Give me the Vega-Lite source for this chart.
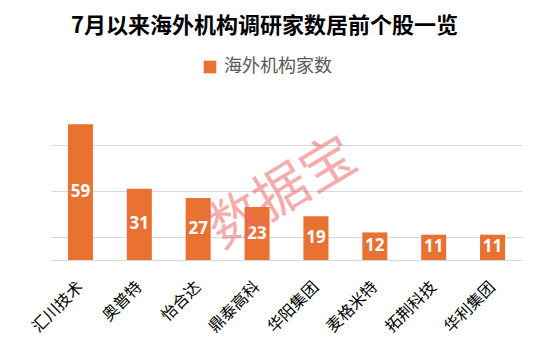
{
  "$schema": "https://vega.github.io/schema/vega-lite/v6.json",
  "width": 471,
  "height": 138,
  "autosize": {"type": "none"},
  "padding": {"left": 51, "top": 122, "right": 16, "bottom": 97},
  "background": "white",
  "config": {"view": {"stroke": null}},
  "title": {
    "text": "7月以来海外机构调研家数居前个股一览",
    "font": "Noto Sans CJK SC",
    "fontSize": 22,
    "fontWeight": "bold",
    "color": "#000000",
    "anchor": "middle",
    "frame": "group",
    "dx": -22,
    "offset": 20
  },
  "data": {
    "values": [
      {"stock": "汇川技术", "count": 59, "series": "海外机构家数"},
      {"stock": "奥普特", "count": 31, "series": "海外机构家数"},
      {"stock": "怡合达", "count": 27, "series": "海外机构家数"},
      {"stock": "鼎泰高科", "count": 23, "series": "海外机构家数"},
      {"stock": "华阳集团", "count": 19, "series": "海外机构家数"},
      {"stock": "麦格米特", "count": 12, "series": "海外机构家数"},
      {"stock": "拓荆科技", "count": 11, "series": "海外机构家数"},
      {"stock": "华利集团", "count": 11, "series": "海外机构家数"}
    ]
  },
  "layer": [
    {
      "mark": {"type": "bar", "color": "#E97132"},
      "encoding": {
        "x": {
          "field": "stock",
          "type": "nominal",
          "sort": null,
          "scale": {"paddingInner": 0.575, "paddingOuter": 0.2875},
          "axis": {
            "title": null,
            "labelAngle": -45,
            "labelAlign": "right",
            "labelBaseline": "middle",
            "labelPadding": 24,
            "labelFont": "Noto Sans CJK SC",
            "labelFontSize": 16,
            "labelColor": "#000000",
            "ticks": false,
            "domainColor": "#d9d9d9",
            "domainWidth": 1
          }
        },
        "y": {
          "field": "count",
          "type": "quantitative",
          "scale": {"domain": [0, 60]},
          "axis": {
            "title": null,
            "labels": false,
            "ticks": false,
            "domain": false,
            "values": [10, 20, 30, 40, 50, 60],
            "gridColor": "#d9d9d9",
            "gridWidth": 1
          }
        },
        "color": {
          "field": "series",
          "type": "nominal",
          "scale": {"range": ["#E97132"]},
          "legend": {
            "title": null,
            "orient": "none",
            "legendX": 150,
            "legendY": -64,
            "symbolType": "square",
            "symbolSize": 160,
            "symbolStrokeWidth": 0,
            "labelFont": "Noto Sans CJK SC",
            "labelFontSize": 18,
            "labelColor": "#595959",
            "labelOffset": 5
          }
        }
      }
    },
    {
      "mark": {
        "type": "text",
        "color": "white",
        "font": "Noto Sans",
        "fontSize": 17,
        "fontWeight": "bold",
        "baseline": "middle",
        "align": "center",
        "dy": {"expr": "(scale('y', 0) - scale('y', datum.count)) / 2"}
      },
      "encoding": {
        "x": {"field": "stock", "type": "nominal", "sort": null},
        "y": {"field": "count", "type": "quantitative"},
        "text": {"field": "count", "type": "quantitative"}
      }
    },
    {
      "data": {"values": [{"label": "数据宝", "stock": "鼎泰高科", "level": 22}]},
      "mark": {
        "type": "text",
        "color": "#ee6a6a",
        "opacity": 0.55,
        "font": "Noto Sans CJK SC",
        "fontSize": 54,
        "angle": -31,
        "align": "center",
        "baseline": "middle",
        "dx": 30
      },
      "encoding": {
        "x": {"field": "stock", "type": "nominal", "sort": null},
        "y": {"field": "level", "type": "quantitative"},
        "text": {"field": "label", "type": "nominal"}
      }
    }
  ]
}
